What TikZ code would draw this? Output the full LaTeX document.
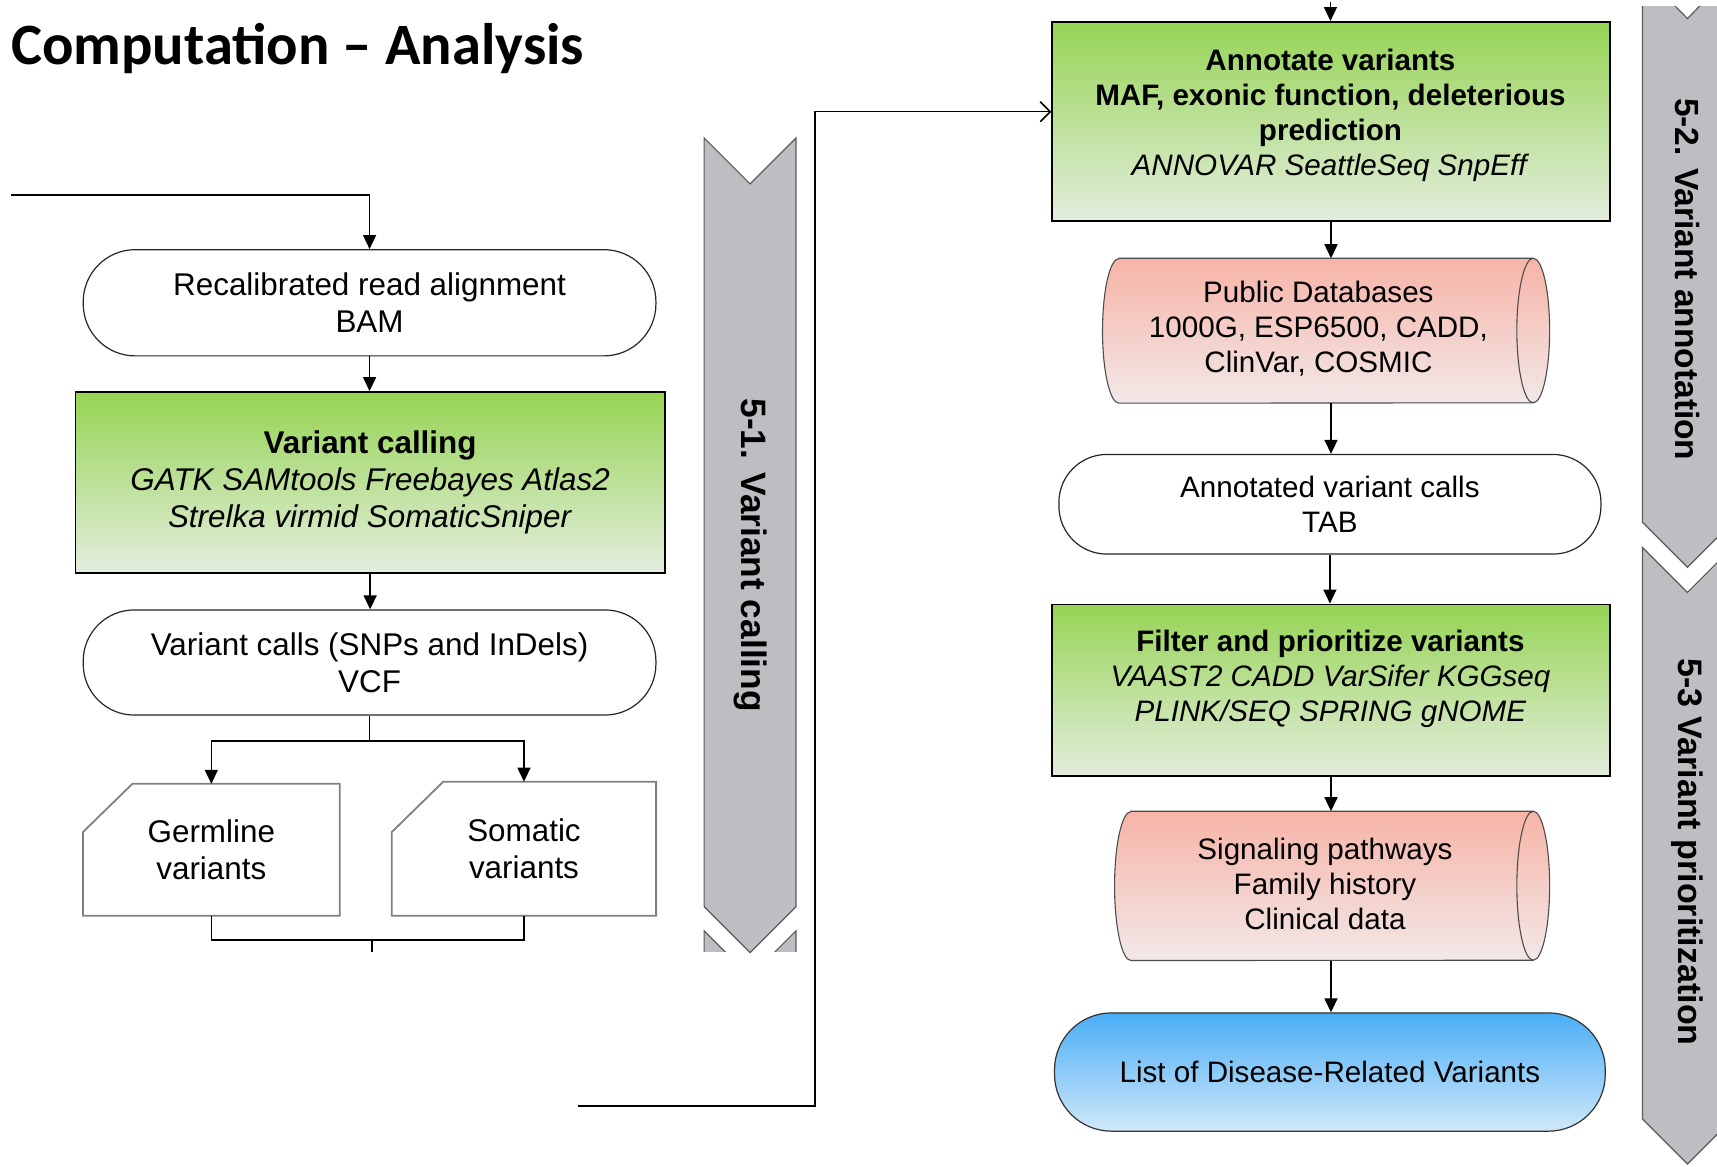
\documentclass[tikz,border=0pt]{standalone}
\usepackage{fontspec}
\setmainfont{Liberation Sans}
\newfontfamily\titlefont{Carlito}
\usetikzlibrary{arrows.meta,calc}
\definecolor{greenT}{HTML}{96D454}
\definecolor{greenB}{HTML}{E4EDDE}
\definecolor{pinkT}{HTML}{F7B4A7}
\definecolor{pinkB}{HTML}{F2E8E8}
\definecolor{blueT}{HTML}{4AAEF6}
\definecolor{blueB}{HTML}{D0E8F9}
\definecolor{chev}{HTML}{BEBDC2}
\definecolor{chevline}{HTML}{5A5A5A}
\tikzset{
  wh/.style 2 args={minimum width=#1*1.095pt, minimum height=#2*1.095pt, inner sep=0pt},
  lfont/.style={font=\fontsize{31.4}{37.2}\selectfont, align=center},
  rfont/.style={font=\fontsize{29.6}{35}\selectfont, align=center},
  stadium/.style={draw=black!85, line width=1.2pt, fill=white},
  greenbox/.style={draw=black, line width=1.8pt, top color=greenT, bottom color=greenB},
  databox/.style={draw=black!50, line width=1.8pt},
  cylpink/.style={draw=black!70, line width=1.1pt, top color=pinkT, bottom color=pinkB},
  chevshape/.style={fill=chev, draw=chevline, line width=1.2pt},
  chevlabel/.style={inner sep=0pt, rotate=-90},
  conn/.style={line width=1.6pt, draw=black},
  arr/.style={conn, -{Triangle[length=14pt,width=13pt]}},
  openarr/.style={conn, -{Straight Barb[length=10pt,width=20pt,line width=1.6pt]}},
}
\begin{document}
\begin{tikzpicture}[x=1.095pt,y=-1.095pt]
\clip (0,0) rectangle (1568,1065);

% title
\node[anchor=base west, inner sep=0pt, font={\titlefont\bfseries\fontsize{58.6}{62}\selectfont}] (title) at (10,59) {Computation – Analysis};

% ---- chevrons ----
\path[chevshape] (643,126) -- (685,168) -- (727,126) -- (727,828) -- (685,870) -- (643,828) -- cycle;
\begin{scope}
  \clip (600,0) rectangle (760,869);
  \path[chevshape] (643,850) -- (685,892) -- (727,850) -- (727,1000) -- (643,1000) -- cycle;
\end{scope}
\node[chevlabel, font=\bfseries\fontsize{35.3}{40}\selectfont] (lab1) at (685,507) {5-1. Variant calling};

\begin{scope}
  \clip (1490,6) rectangle (1568,1065);
  \path[chevshape] (1500,-25) -- (1541,17) -- (1582,-25) -- (1582,477) -- (1541,518) -- (1500,477) -- cycle;
  \path[chevshape] (1500,500) -- (1541,541) -- (1582,500) -- (1582,1022) -- (1541,1063) -- (1500,1022) -- cycle;
\end{scope}
\node[chevlabel, font=\bfseries\fontsize{33.5}{38}\selectfont] (lab2) at (1541,255) {5-2. Variant annotation};
\node[chevlabel, font=\bfseries\fontsize{34}{38}\selectfont] (lab3) at (1541,778) {5-3 Variant prioritization};

% ---- left column ----
\node[stadium, lfont, wh={523}{97}, rounded corners=52pt] (rec) at (337.5,276.5) {Recalibrated read alignment\\BAM};
\node[greenbox, lfont, wh={538}{165}] (vc) at (338,440.5) {\textbf{Variant calling}\\\textit{GATK SAMtools Freebayes Atlas2}\\\textit{Strelka virmid SomaticSniper}};
\node[stadium, lfont, wh={523}{96}, rounded corners=51pt] (vcf) at (337.5,605) {Variant calls (SNPs and InDels)\\VCF};
\node[lfont, wh={234}{120}] (germ) at (193,776) {Germline\\variants};
\node[lfont, wh={241}{122}] (som) at (478.5,775) {Somatic\\variants};
\draw[databox] ($(germ.north west)+(45,0)$) -- (germ.north east) -- (germ.south east) -- (germ.south west) -- ($(germ.north west)+(0,44)$) -- cycle;
\draw[databox] ($(som.north west)+(47,0)$) -- (som.north east) -- (som.south east) -- (som.south west) -- ($(som.north west)+(0,46)$) -- cycle;

% ---- right column ----
\node[greenbox, wh={509}{182}] (ann) at (1215.5,111) {};
\node[rfont, inner sep=0pt] (anntxt) at (1215,105) {\textbf{Annotate variants}\\\textbf{MAF, exonic function, deleterious}\\\textbf{prediction}\\\textit{ANNOVAR SeattleSeq SnpEff}};

\node[wh={408}{132}] (pubbox) at (1211,302) {};
\path[cylpink] ($(pubbox.north west)+(15,0)$) -- ($(pubbox.north east)+(-15,0)$)
   arc[start angle=90,end angle=-90,x radius=16.4pt,y radius=72.3pt]
   -- ($(pubbox.south west)+(15,0)$)
   arc[start angle=270,end angle=90,x radius=16.4pt,y radius=72.3pt] -- cycle;
\draw[draw=black!70, line width=1.1pt] ($(pubbox.north east)+(-15,0)$) arc[start angle=90,end angle=270,x radius=16.4pt,y radius=72.3pt];
\node[rfont, inner sep=0pt] (pubtxt) at (1204,300) {Public Databases\\1000G, ESP6500, CADD,\\ClinVar, COSMIC};

\node[stadium, rfont, wh={495}{91}, rounded corners=48pt] (annv) at (1214.5,460.5) {Annotated variant calls\\TAB};

\node[greenbox, wh={509}{157}] (filt) at (1215.5,630.5) {};
\node[rfont, inner sep=0pt] (filttxt) at (1215,620) {\textbf{Filter and prioritize variants}\\\textit{VAAST2 CADD VarSifer KGGseq}\\\textit{PLINK/SEQ SPRING gNOME}};

\node[wh={397}{136}] (sigbox) at (1216.5,809) {};
\path[cylpink] ($(sigbox.north west)+(15,0)$) -- ($(sigbox.north east)+(-15,0)$)
   arc[start angle=90,end angle=-90,x radius=16.4pt,y radius=74.5pt]
   -- ($(sigbox.south west)+(15,0)$)
   arc[start angle=270,end angle=90,x radius=16.4pt,y radius=74.5pt] -- cycle;
\draw[draw=black!70, line width=1.1pt] ($(sigbox.north east)+(-15,0)$) arc[start angle=90,end angle=270,x radius=16.4pt,y radius=74.5pt];
\node[rfont, inner sep=0pt] (sigtxt) at (1210,807) {Signaling pathways\\Family history\\Clinical data};

\node[draw=black!80, line width=1.2pt, top color=blueT, bottom color=blueB, rfont, wh={503}{108}, rounded corners=57pt] (list) at (1214.5,979) {List of Disease-Related Variants};

% ---- connectors left ----
\coordinate (inL) at (10,178);
\draw[arr] (inL) -| (rec.north);
\draw[arr] (rec.south) -- (rec.south |- vc.north);
\draw[arr] (vc.south) -- (vc.south |- vcf.north);
\coordinate (split) at ($(vcf.south)+(0,23)$);
\draw[conn] (vcf.south) -- (split);
\draw[arr] (split) -| (germ.north);
\draw[arr] (split) -| (som.north);
\coordinate (mj) at ($(vcf.south)+(2,205)$);
\draw[conn] (germ.south) |- (mj) -| (som.south);
\coordinate (mjend) at ($(mj)+(0,11)$);
\draw[conn] (mj) -- (mjend);

% ---- long connector ----
\coordinate (bstart) at (528,1010);
\coordinate (bcorner) at (744,1010);
\coordinate (btop) at (744,102);
\draw[openarr] (bstart) -- (bcorner) -- (btop) -- (btop -| ann.west);

% ---- connectors right ----
\coordinate (topin) at (1215,2);
\draw[arr] (topin) -- (topin |- ann.north);
\draw[arr] (ann.south) -- (ann.south |- pubbox.north);
\draw[arr] (ann.south |- pubbox.south) -- (ann.south |- annv.north);
\draw[arr] (annv.south) -- (annv.south |- filt.north);
\draw[arr] (filt.south) -- (filt.south |- sigbox.north);
\draw[arr] (filt.south |- sigbox.south) -- (filt.south |- list.north);
\end{tikzpicture}
\end{document}
